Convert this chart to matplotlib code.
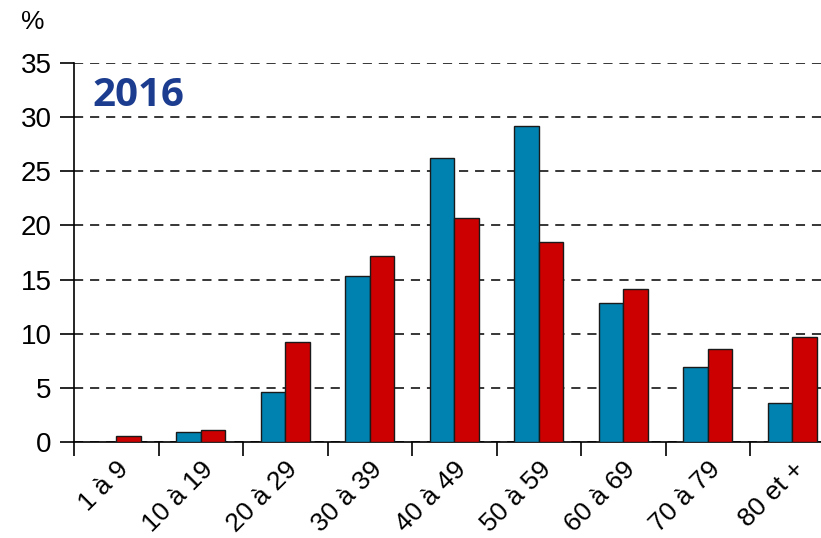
import numpy as np
import matplotlib
matplotlib.use('Agg')
import matplotlib.pyplot as plt

categories = ['1 à 9', '10 à 19', '20 à 29', '30 à 39', '40 à 49',
              '50 à 59', '60 à 69', '70 à 79', '80 et +']
blue_vals = [0.0, 0.9, 4.6, 15.3, 26.2, 29.2, 12.8, 6.9, 3.6]
red_vals = [0.55, 1.1, 9.2, 17.2, 20.65, 18.5, 14.1, 8.6, 9.7]

plt.rcParams['font.family'] = ['Liberation Sans', 'DejaVu Sans']

fig = plt.figure(figsize=(8.21, 5.38), dpi=100)
# axes extends past the right edge, last category gets clipped like the original
ax = fig.add_axes([74 / 821, 96 / 538, 760.5 / 821, 379 / 538])

x = np.arange(len(categories))
w = 0.288
ax.bar(x - w / 2, blue_vals, w, color='#0082b0', edgecolor='#1a1a1a', linewidth=1.0, zorder=3)
ax.bar(x + w / 2, red_vals, w, color='#cc0000', edgecolor='#1a1a1a', linewidth=1.0, zorder=3)

ax.set_xlim(-0.5, len(categories) - 0.5)
ax.set_ylim(0, 35)
ax.set_yticks(np.arange(0, 36, 5))
ax.yaxis.grid(True, linestyle=(0, (6, 4.5)), color='black', linewidth=1.1, zorder=0)

ax.set_xticks(np.arange(len(categories) + 1) - 0.5)
ax.set_xticklabels([])
ax.set_xticks(x, minor=True)
ax.set_xticklabels(categories, minor=True, rotation=45, ha='right',
                   rotation_mode='anchor', fontsize=19)
ax.tick_params(axis='x', which='minor', length=0, pad=11)
ax.tick_params(axis='x', which='major', length=10, width=1.2, direction='out')
ax.tick_params(axis='y', length=10, width=1.2, direction='out', labelsize=20, pad=6)

for s in ['top', 'right']:
    ax.spines[s].set_visible(False)
ax.spines['left'].set_linewidth(1.2)
ax.spines['bottom'].set_linewidth(1.2)

fig.text(33 / 821, 1 - 22 / 538, '%', fontsize=19, ha='center', va='center')
ax.text(92 / 821, 1 - 106 / 538, '2016', transform=fig.transFigure, fontsize=29,
        fontweight='bold', color='#1c3d8f', family='Open Sans', ha='left', va='baseline')

fig.savefig('out.png', dpi=100)
